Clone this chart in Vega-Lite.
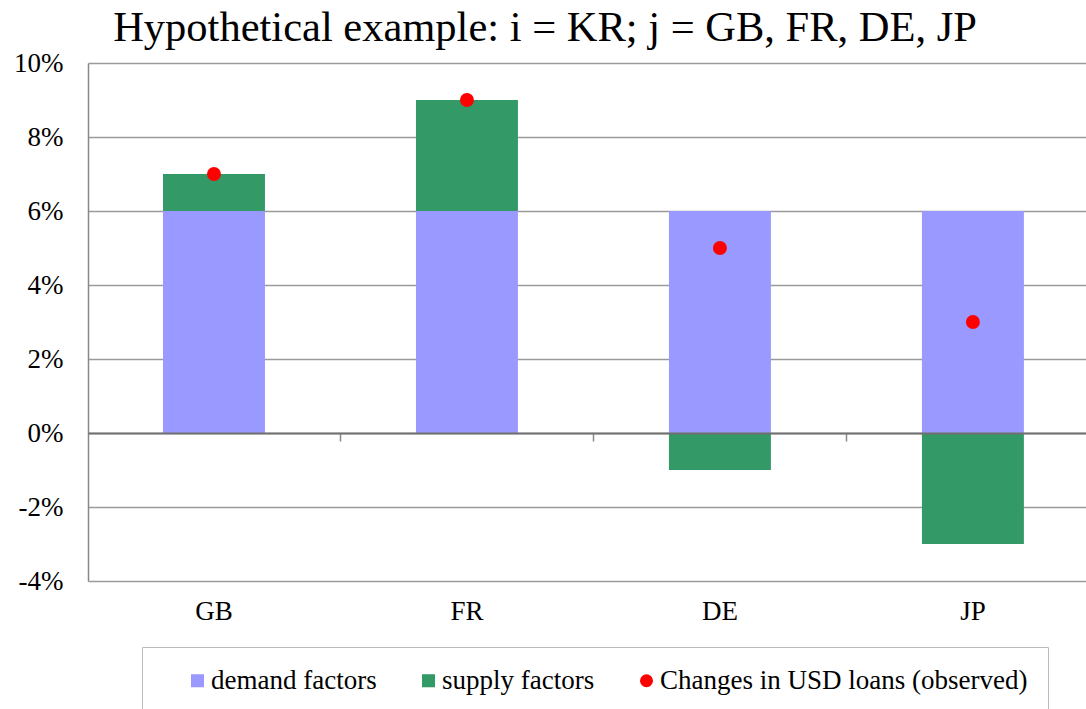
{
  "$schema": "https://vega.github.io/schema/vega-lite/v6.json",
  "width": 998,
  "height": 518,
  "autosize": {"type": "none"},
  "padding": {"left": 88, "top": 63, "right": 0, "bottom": 128},
  "background": "white",
  "view": {"stroke": null},
  "config": {
    "font": "Liberation Serif",
    "axis": {"labelFont": "Liberation Serif"},
    "legend": {"labelFont": "Liberation Serif"},
    "title": {"font": "Liberation Serif"}
  },
  "title": {
    "text": "Hypothetical example: i = KR; j = GB, FR, DE, JP",
    "font": "Liberation Serif",
    "fontSize": 42.5,
    "fontWeight": "normal",
    "color": "#000",
    "anchor": "middle",
    "dx": -42,
    "offset": 0
  },
  "data": {
    "values": [
      {"country": "GB", "series": "demand factors", "value": 6},
      {"country": "GB", "series": "supply factors", "value": 1},
      {"country": "FR", "series": "demand factors", "value": 6},
      {"country": "FR", "series": "supply factors", "value": 3},
      {"country": "DE", "series": "demand factors", "value": 6},
      {"country": "DE", "series": "supply factors", "value": -1},
      {"country": "JP", "series": "demand factors", "value": 6},
      {"country": "JP", "series": "supply factors", "value": -3},
      {"country": "GB", "series": "Changes in USD loans (observed)", "value": 7},
      {"country": "FR", "series": "Changes in USD loans (observed)", "value": 9},
      {"country": "DE", "series": "Changes in USD loans (observed)", "value": 5},
      {"country": "JP", "series": "Changes in USD loans (observed)", "value": 3}
    ]
  },
  "layer": [
    {
      "transform": [{"filter": "datum.series !== 'Changes in USD loans (observed)'"}],
      "mark": {"type": "bar", "opacity": 1},
      "encoding": {
        "x": {
          "field": "country",
          "type": "nominal",
          "scale": {"domain": ["GB", "FR", "DE", "JP"], "paddingInner": 0.597, "paddingOuter": 0.271, "align": 0.547},
          "axis": {
            "orient": "bottom",
            "domain": false,
            "ticks": false,
            "grid": false,
            "labelAngle": 0,
            "labelFont": "Liberation Serif",
            "labelFontSize": 27,
            "labelColor": "#000",
            "labelPadding": 17,
            "title": null
          }
        },
        "y": {
          "field": "value",
          "type": "quantitative",
          "stack": "zero",
          "scale": {"domain": [-4, 10], "nice": false},
          "axis": {
            "domain": true,
            "domainColor": "#888",
            "domainWidth": 1.5,
            "ticks": false,
            "grid": true,
            "gridColor": "#9a9a9a",
            "gridWidth": 1.5,
            "values": [-4, -2, 0, 2, 4, 6, 8, 10],
            "labelExpr": "datum.value + '%'",
            "labelFont": "Liberation Serif",
            "labelFontSize": 27,
            "labelColor": "#000",
            "labelPadding": 25,
            "title": null
          }
        },
        "order": {"field": "series", "type": "nominal", "sort": "ascending"},
        "color": {
          "field": "series",
          "type": "nominal",
          "scale": {
            "domain": ["demand factors", "supply factors", "Changes in USD loans (observed)"],
            "range": ["#9999FF", "#339966", "#FF0000"]
          },
          "legend": {
            "orient": "none",
            "legendX": 54,
            "legendY": 584,
            "direction": "horizontal",
            "title": null,
            "labelFont": "Liberation Serif",
            "labelFontSize": 27,
            "labelColor": "#000",
            "labelLimit": 600,
            "symbolSize": 170,
            "symbolOpacity": 1,
            "symbolStrokeWidth": 0,
            "padding": 20,
            "symbolOffset": 22,
            "columnPadding": 16,
            "labelOffset": 0,
            "strokeColor": "#bbbbbb",
            "encoding": {
              "symbols": {
                "shape": {
                  "condition": {"test": "datum.value === 'Changes in USD loans (observed)'", "value": "circle"},
                  "value": "square"
                }
              }
            }
          }
        }
      }
    },
    {
      "transform": [{"filter": "datum.series === 'Changes in USD loans (observed)'"}],
      "mark": {"type": "point", "filled": true, "opacity": 1, "size": 195},
      "encoding": {
        "x": {
          "field": "country",
          "type": "nominal",
          "axis": {
            "orient": "bottom",
            "offset": -148,
            "domain": true,
            "domainColor": "#707070",
            "domainWidth": 2,
            "ticks": true,
            "tickSize": 8,
            "tickColor": "#888",
            "tickWidth": 1.5,
            "tickOffset": 126.5,
            "labels": false,
            "grid": false,
            "title": null,
            "zindex": 1
          }
        },
        "y": {
          "field": "value",
          "type": "quantitative",
          "axis": {
            "domain": true,
            "domainColor": "#888",
            "domainWidth": 1.5,
            "ticks": false,
            "grid": true,
            "gridColor": "#9a9a9a",
            "gridWidth": 1.5,
            "values": [-4, -2, 0, 2, 4, 6, 8, 10],
            "labelExpr": "datum.value + '%'",
            "labelFont": "Liberation Serif",
            "labelFontSize": 27,
            "labelColor": "#000",
            "labelPadding": 25,
            "title": null
          }
        },
        "color": {"field": "series", "type": "nominal"}
      }
    }
  ],
  "resolve": {"axis": {"x": "independent"}}
}
